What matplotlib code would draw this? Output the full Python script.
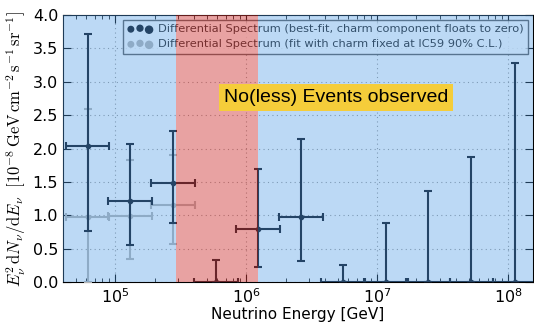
import numpy as np
import matplotlib
matplotlib.use("Agg")
import matplotlib.pyplot as plt
from matplotlib.legend_handler import HandlerPathCollection

plt.rcParams['mathtext.fontset'] = 'cm'

# bin centres (log10 GeV) and half width of each bin in decades
log_e = [4.79, 5.115, 5.44, 5.77, 6.09, 6.42, 6.74, 7.07, 7.39, 7.72, 8.05]
half_w = 1.0 / 6

# best-fit spectrum: value, lower and upper ends of error bar
best_val = [2.04, 1.22, 1.49, 0.0, 0.80, 0.98, 0.0, 0.0, 0.0, 0.0, 0.0]
best_lo = [0.77, 0.56, 0.89, 0.0, 0.22, 0.31, 0.0, 0.0, 0.0, 0.0, 0.0]
best_hi = [3.72, 2.07, 2.26, 0.33, 1.70, 2.14, 0.25, 0.88, 1.36, 1.87, 3.28]

# charm fixed fit (only visible in the first three bins)
charm_log_e = [4.79, 5.115, 5.44]
charm_val = [0.97, 0.99, 1.15]
charm_lo = [0.0, 0.34, 0.57]
charm_hi = [2.60, 1.83, 1.91]

x_min, x_max = 4.0e4, 1.55e8
red_lo, red_hi = 2.92e5, 1.23e6


def errbars(log_x, val, lo, hi):
    log_x = np.array(log_x)
    x = 10 ** log_x
    xerr = [x - 10 ** (log_x - half_w), 10 ** (log_x + half_w) - x]
    yerr = [np.array(val) - np.array(lo), np.array(hi) - np.array(val)]
    return x, xerr, yerr


fig = plt.figure(figsize=(5.34, 3.28), dpi=100)
ax = fig.add_axes([0.118, 0.14, 0.880, 0.814])

x, xerr, yerr = errbars(charm_log_e, charm_val, charm_lo, charm_hi)
ax.errorbar(x, charm_val, xerr=xerr, yerr=yerr, fmt='o', ms=3, color='#b4b4b4',
            mec='#b4b4b4', elinewidth=1.5, capsize=3, capthick=1.5, zorder=3)

x, xerr, yerr = errbars(log_e, best_val, best_lo, best_hi)
ax.errorbar(x, best_val, xerr=xerr, yerr=yerr, fmt='o', ms=3, color='#0a0f18',
            mec='#0a0f18', elinewidth=1.5, capsize=3, capthick=1.5, zorder=4)

ax.set_xscale('log')
ax.set_xlim(x_min, x_max)
ax.set_ylim(0, 4)
ax.set_yticks(np.arange(0, 4.01, 0.5))
ax.grid(True, which='major', linestyle=(0, (1, 3)), color='#999999', linewidth=0.8, zorder=0)
ax.tick_params(which='both', direction='in', top=True, right=True, labelsize=11.5)
ax.tick_params(which='major', length=6)
ax.tick_params(which='minor', length=3)

ax.set_xlabel('Neutrino Energy [GeV]', fontsize=11, labelpad=1)
ax.set_ylabel(r'$E_\nu^2\,\mathrm{d}N_\nu/\mathrm{d}E_\nu\ \ [10^{-8}\,\mathrm{GeV\,cm^{-2}\,s^{-1}\,sr^{-1}}]$',
              fontsize=12, labelpad=3)

h1 = ax.scatter([np.nan], [np.nan], s=14, color='#0a0f18')
h2 = ax.scatter([np.nan], [np.nan], s=14, color='#b4b4b4')
leg = ax.legend([h1, h2],
                ['Differential Spectrum (best-fit, charm component floats to zero)',
                 'Differential Spectrum (fit with charm fixed at IC59 90% C.L.)'],
                loc='upper right', scatterpoints=3, fontsize=8.2, fancybox=False,
                handler_map={h1: HandlerPathCollection(sizes=[16, 18, 26]),
                             h2: HandlerPathCollection(sizes=[16, 18, 26])},
                borderaxespad=0.4, handletextpad=0.5, labelspacing=0.45,
                handlelength=2.2)
leg.get_frame().set_edgecolor('#333333')
leg.get_frame().set_linewidth(1.0)
for t in leg.get_texts():
    t.set_color('#222222')
leg.set_zorder(5)

# coloured overlays on top of the plot
ax.axvspan(x_min, red_lo, color='#519de6', alpha=0.38, lw=0, zorder=10)
ax.axvspan(red_hi, x_max, color='#519de6', alpha=0.38, lw=0, zorder=10)
ax.axvspan(red_lo, red_hi, color='#d03e3e', alpha=0.48, lw=0, zorder=10)

ax.text(4.87e6, 2.77, 'No(less) Events observed', fontsize=14, family='Liberation Sans',
        ha='center', va='center', zorder=20,
        bbox=dict(boxstyle='square,pad=0.25', facecolor='#f5cd3a', edgecolor='none'))

fig.savefig('out.png', dpi=100)
